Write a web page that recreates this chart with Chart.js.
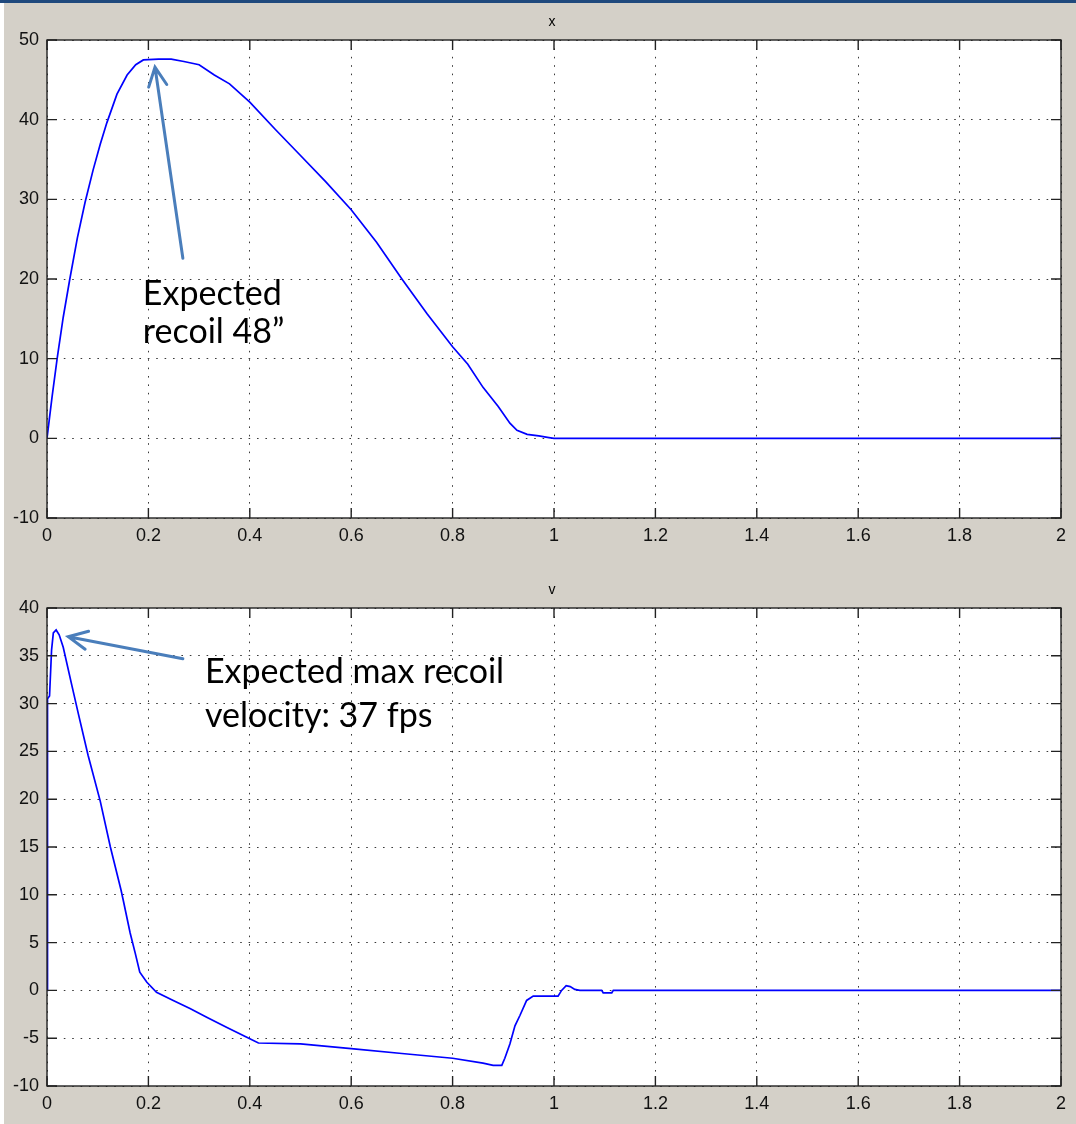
<!DOCTYPE html>
<html>
<head>
<meta charset="utf-8">
<script src="https://cdn.jsdelivr.net/npm/chart.js@4.4.0/dist/chart.umd.min.js"></script>
<style>
html, body { margin: 0; padding: 0; background: #fff; }
#page { position: relative; width: 1076px; height: 1124px; overflow: hidden; }
#bar { position: absolute; left: 0; top: 0; width: 1076px; height: 3px; background: #1f497d; }
#fig { position: absolute; left: 4px; top: 3px; width: 1072px; height: 1121px; background: #d4d0c8; }
.plot { position: absolute; left: 0; width: 1076px; }
</style>
</head>
<body>
<div id="page">
  <div id="fig"></div>
  <div id="bar"></div>
  <div class="plot" style="top:0;height:560px"><canvas id="chartX"></canvas></div>
  <div class="plot" style="top:560px;height:564px"><canvas id="chartV"></canvas></div>
</div>
<script>
// time axis (s) and recoil position x
var tX = [0, 0.01, 0.02, 0.032, 0.045, 0.06, 0.075, 0.091, 0.105, 0.118, 0.138, 0.158, 0.175,
  0.19, 0.22, 0.245, 0.27, 0.30, 0.33, 0.36, 0.40, 0.45, 0.50, 0.55, 0.60, 0.65, 0.70, 0.75,
  0.80, 0.83, 0.86, 0.89, 0.913, 0.927, 0.947, 0.97, 0.99, 1.0, 1.5, 2.0];
var xPos = [0, 5.2, 10, 15.2, 20, 25.2, 29.6, 33.7, 36.9, 39.6, 43.2, 45.6, 46.9,
  47.5, 47.6, 47.6, 47.3, 46.9, 45.6, 44.5, 42.2, 38.8, 35.5, 32.2, 28.7, 24.6, 20.0, 15.6,
  11.5, 9.3, 6.4, 4.0, 1.9, 1.0, 0.5, 0.3, 0.1, 0, 0, 0];

// time axis (s) and recoil velocity v
var tV = [0, 0.001, 0.005, 0.009, 0.0125, 0.018, 0.024, 0.032, 0.049, 0.062, 0.081, 0.105,
  0.125, 0.146, 0.1505, 0.164, 0.174, 0.183, 0.197, 0.216, 0.249, 0.282, 0.315, 0.354, 0.394,
  0.417, 0.5, 0.6, 0.7, 0.8, 0.86, 0.88, 0.897, 0.903, 0.913, 0.923, 0.933, 0.946, 0.959,
  1.008, 1.015, 1.024, 1.032, 1.041, 1.051, 1.094, 1.097, 1.114, 1.117, 1.5, 2.0];
var vel = [0, 30.5, 30.8, 35.6, 37.4, 37.7, 37.2, 35.9, 31.9, 28.9, 24.6, 19.8,
  15.0, 10.5, 9.4, 6.0, 3.9, 1.9, 0.85, -0.2, -1.05, -1.9, -2.8, -3.85, -4.9,
  -5.5, -5.6, -6.1, -6.6, -7.1, -7.6, -7.85, -7.85, -7.1, -5.6, -3.7, -2.6, -1.05, -0.6,
  -0.6, 0, 0.5, 0.4, 0.1, 0, 0, -0.25, -0.25, 0, 0, 0];

var tTickLabels = ['0', '0.2', '0.4', '0.6', '0.8', '1', '1.2', '1.4', '1.6', '1.8', '2'];
var xTickLabels = ['-10', '0', '10', '20', '30', '40', '50'];
var vTickLabels = ['-10', '-5', '0', '5', '10', '15', '20', '25', '30', '35', '40'];

function toPoints(t, y) {
  return t.map(function (v, i) { return { x: v, y: y[i] }; });
}

// white axes box, inward ticks, frame, title and the arrow notes
var matlabAxes = {
  id: 'matlabAxes',
  beforeDraw: function (chart) {
    var a = chart.chartArea, ctx = chart.ctx;
    ctx.save();
    ctx.fillStyle = '#fff';
    ctx.fillRect(a.left, a.top, a.right - a.left, a.bottom - a.top);
    ctx.restore();
  },
  afterDraw: function (chart, args, opts) {
    var a = chart.chartArea, ctx = chart.ctx;
    var xs = chart.scales.x, ys = chart.scales.y;
    var len = 10;
    ctx.save();
    ctx.strokeStyle = '#222';
    ctx.lineWidth = 1.4;
    ctx.beginPath();
    xs.ticks.forEach(function (tk) {
      var px = xs.getPixelForValue(tk.value);
      ctx.moveTo(px, a.bottom); ctx.lineTo(px, a.bottom - len);
      ctx.moveTo(px, a.top); ctx.lineTo(px, a.top + len);
    });
    ys.ticks.forEach(function (tk) {
      var py = ys.getPixelForValue(tk.value);
      ctx.moveTo(a.left, py); ctx.lineTo(a.left + len, py);
      ctx.moveTo(a.right, py); ctx.lineTo(a.right - len, py);
    });
    ctx.stroke();
    ctx.strokeRect(a.left, a.top, a.right - a.left, a.bottom - a.top);

    ctx.fillStyle = '#000';
    ctx.font = '14px "Liberation Sans", Arial, sans-serif';
    ctx.textAlign = 'center';
    ctx.textBaseline = 'middle';
    ctx.fillText(opts.title, (a.left + a.right) / 2 - 2, a.top - 17.5);

    // arrow
    var n = opts.note;
    var x0 = xs.getPixelForValue(n.tail[0]), y0 = ys.getPixelForValue(n.tail[1]);
    var x1 = xs.getPixelForValue(n.head[0]), y1 = ys.getPixelForValue(n.head[1]);
    var ang = Math.atan2(y1 - y0, x1 - x0);
    ctx.strokeStyle = '#4a7ebb';
    ctx.lineWidth = 3;
    ctx.lineCap = 'round';
    ctx.beginPath();
    ctx.moveTo(x0, y0); ctx.lineTo(x1, y1);
    ctx.moveTo(x1 - 21 * Math.cos(ang - 0.45), y1 - 21 * Math.sin(ang - 0.45));
    ctx.lineTo(x1, y1);
    ctx.lineTo(x1 - 21 * Math.cos(ang + 0.45), y1 - 21 * Math.sin(ang + 0.45));
    ctx.stroke();

    ctx.fillStyle = '#000';
    ctx.font = '34px Lato, "Open Sans", sans-serif';
    ctx.textAlign = 'left';
    ctx.textBaseline = 'alphabetic';
    var tx = xs.getPixelForValue(n.at[0]), ty = ys.getPixelForValue(n.at[1]);
    n.lines.forEach(function (s, i) { ctx.fillText(s, tx, ty + i * n.lineGap); });
    ctx.restore();
  }
};

function makeOptions(yMin, yMax, yStep, yLabels, pad, plug) {
  return {
    responsive: true,
    maintainAspectRatio: false,
    animation: false,
    layout: { padding: pad },
    plugins: { legend: { display: false }, tooltip: { enabled: false }, matlabAxes: plug },
    scales: {
      x: {
        type: 'linear', min: 0, max: 2,
        afterFit: function (s) { s.height = 30; },
        border: { display: false, dash: [1.6, 6.8] },
        grid: { color: '#3a3a3a', lineWidth: 1, drawTicks: false },
        ticks: {
          stepSize: 0.2, padding: 7, color: '#111',
          font: { family: '"Liberation Sans", Arial, sans-serif', size: 18 },
          callback: function (v, i) { return tTickLabels[i]; }
        }
      },
      y: {
        type: 'linear', min: yMin, max: yMax,
        afterFit: function (s) { s.width = 47; },
        border: { display: false, dash: [1.6, 6.8] },
        grid: { color: '#3a3a3a', lineWidth: 1, drawTicks: false },
        ticks: {
          stepSize: yStep, padding: 8, color: '#111',
          font: { family: '"Liberation Sans", Arial, sans-serif', size: 18 },
          callback: function (v, i) { return yLabels[i]; }
        }
      }
    }
  };
}

function lineSet(points) {
  return {
    data: points,
    borderColor: '#0000ff',
    borderWidth: 1.7,
    pointRadius: 0,
    tension: 0,
    fill: false
  };
}

new Chart(document.getElementById('chartX'), {
  type: 'line',
  data: { datasets: [lineSet(toPoints(tX, xPos))] },
  options: makeOptions(-10, 50, 10, xTickLabels,
    { top: 40, left: 0, right: 15, bottom: 12 },
    { title: 'x', note: { tail: [0.268, 22.6], head: [0.213, 46.6], at: [0.189, 16.7],
      lines: ['Expected', 'recoil 48\u201d'], lineGap: 38 } }),
  plugins: [matlabAxes]
});

new Chart(document.getElementById('chartV'), {
  type: 'line',
  data: { datasets: [lineSet(toPoints(tV, vel))] },
  options: makeOptions(-10, 40, 5, vTickLabels,
    { top: 48, left: 0, right: 15, bottom: 8 },
    { title: 'v', note: { tail: [0.268, 34.7], head: [0.042, 37.0], at: [0.3116, 32.2],
      lines: ['Expected max recoil', 'velocity: 37 fps'], lineGap: 44 } }),
  plugins: [matlabAxes]
});
</script>
</body>
</html>
